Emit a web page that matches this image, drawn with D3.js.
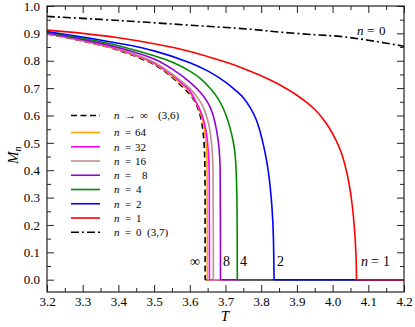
<!DOCTYPE html>
<html>
<head>
<meta charset="utf-8">
<script src="https://cdn.jsdelivr.net/npm/d3@7"></script>
<style>
  body { margin: 0; background: #fff; }
</style>
</head>
<body>
<div id="chart"></div>
<script>
// curves, [T, M] pairs; each ends flat at M = 0 after its Tc
var seriesInf = [[3.20,0.898],[3.30,0.872],[3.40,0.838],[3.50,0.786],[3.55,0.740],[3.58,0.704],[3.60,0.678],[3.61,0.660],[3.62,0.635],[3.628,0.605],[3.634,0.570],[3.638,0.53],[3.6405,0.485],[3.642,0.43],[3.6425,0.39],[3.643,0],[4.20,0]];
var series64 = [[3.20,0.899],[3.30,0.873],[3.40,0.840],[3.50,0.789],[3.55,0.744],[3.58,0.710],[3.60,0.684],[3.613,0.658],[3.625,0.626],[3.633,0.596],[3.639,0.562],[3.644,0.52],[3.6465,0.475],[3.648,0.42],[3.6485,0.38],[3.649,0],[4.20,0]];
var series32 = [[3.20,0.900],[3.30,0.874],[3.40,0.842],[3.50,0.792],[3.55,0.748],[3.58,0.715],[3.60,0.690],[3.615,0.655],[3.628,0.622],[3.637,0.590],[3.644,0.553],[3.649,0.51],[3.652,0.465],[3.654,0.41],[3.6545,0.37],[3.655,0],[4.20,0]];
var series16 = [[3.20,0.901],[3.30,0.876],[3.40,0.845],[3.50,0.795],[3.55,0.752],[3.58,0.722],[3.60,0.699],[3.62,0.668],[3.635,0.638],[3.645,0.605],[3.653,0.568],[3.658,0.530],[3.662,0.485],[3.664,0.44],[3.665,0.39],[3.666,0],[4.20,0]];
var series8 = [[3.20,0.902],[3.30,0.878],[3.40,0.848],[3.50,0.806],[3.55,0.770],[3.60,0.722],[3.63,0.684],[3.65,0.648],[3.663,0.610],[3.672,0.565],[3.678,0.522],[3.682,0.48],[3.684,0.44],[3.685,0.40],[3.686,0],[4.20,0]];
var series4 = [[3.20,0.904],[3.30,0.882],[3.40,0.855],[3.50,0.818],[3.55,0.795],[3.60,0.762],[3.63,0.735],[3.66,0.695],[3.68,0.660],[3.695,0.622],[3.705,0.588],[3.713,0.553],[3.72,0.515],[3.725,0.478],[3.728,0.44],[3.730,0.39],[3.7315,0.32],[3.7325,0.24],[3.733,0],[4.20,0]];
var series2 = [[3.20,0.907],[3.30,0.887],[3.40,0.864],[3.50,0.836],[3.60,0.793],[3.65,0.763],[3.70,0.722],[3.73,0.690],[3.75,0.665],[3.77,0.627],[3.785,0.588],[3.795,0.550],[3.803,0.510],[3.810,0.470],[3.817,0.420],[3.823,0.365],[3.828,0.300],[3.832,0.225],[3.834,0.16],[3.835,0.10],[3.836,0],[4.20,0]];
var series1 = [[3.20,0.912],[3.30,0.900],[3.40,0.884],[3.50,0.862],[3.60,0.834],[3.70,0.795],[3.75,0.772],[3.80,0.745],[3.85,0.713],[3.90,0.674],[3.93,0.645],[3.95,0.622],[3.97,0.593],[3.99,0.556],[4.01,0.508],[4.025,0.462],[4.04,0.39],[4.05,0.32],[4.056,0.26],[4.061,0.19],[4.064,0.13],[4.066,0.07],[4.067,0],[4.20,0]];
var series0 = [[3.20,0.962],[3.35,0.951],[3.46,0.942],[3.60,0.930],[3.77,0.915],[3.85,0.905],[3.95,0.895],[4.02,0.889],[4.10,0.875],[4.20,0.853]];

var legendNames = ["\u221e", "64", "32", "16", "8", "4", "2", "1", "0"];
var xTicks = [3.2, 3.3, 3.4, 3.5, 3.6, 3.7, 3.8, 3.9, 4.0, 4.1, 4.2];
var yTicks = [0.0, 0.1, 0.2, 0.3, 0.4, 0.5, 0.6, 0.7, 0.8, 0.9, 1.0];

var FONT = "'Liberation Serif', 'Times New Roman', 'Liberation Sans', Arial, sans-serif";

var margin = { top: 6, right: 11, bottom: 35, left: 47 },
    width = 415 - margin.left - margin.right,
    height = 327 - margin.top - margin.bottom;

var x = d3.scaleLinear().domain([3.2, 4.2]).range([0, width]);
var y = d3.scaleLinear().domain([-0.045, 1.0]).range([height, 0]);

var curves = [
  { data: seriesInf, color: "#000", dash: "6,3.5" },
  { data: series64, color: "#ffa500" },
  { data: series32, color: "#ff00ff" },
  { data: series16, color: "#bc8f8f" },
  { data: series8, color: "#9400d3" },
  { data: series4, color: "#008b00" },
  { data: series2, color: "#0000ff" },
  { data: series1, color: "#ff0000" },
  { data: series0, color: "#000", dash: "8,3,2,3", noZero: true }
];

var root = d3.select("#chart").append("svg")
    .attr("width", 415)
    .attr("height", 327)
    .style("font-family", FONT);
var svg = root.append("g")
    .attr("transform", "translate(" + margin.left + "," + margin.top + ")");

svg.append("clipPath").attr("id", "clip")
  .append("rect").attr("width", width).attr("height", height);

var minorX = d3.range(3.25, 4.2, 0.1);
var minorY = d3.range(0.05, 1.0, 0.1);

// major + minor ticks on all four sides, pointing inward
const addAxis = (axisFn, transform, values, size, pad, labels) => {
  var g = svg.append("g")
      .attr("transform", transform)
      .call(axisFn.tickValues(values).tickSize(size).tickPadding(pad)
        .tickFormat(labels ? d3.format(".1f") : ""));
  g.select(".domain").remove();
  g.selectAll("line").attr("stroke", "#222").attr("stroke-width", 1);
  g.selectAll("text").attr("font-size", "13px").attr("fill", "#000")
    .style("font-family", FONT);
  return g;
};

addAxis(d3.axisBottom(x), "translate(0," + height + ")", xTicks, -7, 5, true);
addAxis(d3.axisBottom(x), "translate(0," + height + ")", minorX, -4, 5, false);
addAxis(d3.axisTop(x), "translate(0,0)", xTicks, -7, 4, false);
addAxis(d3.axisTop(x), "translate(0,0)", minorX, -4, 4, false);
addAxis(d3.axisLeft(y), "translate(0,0)", yTicks, -7, 7, true);
addAxis(d3.axisLeft(y), "translate(0,0)", minorY, -4, 7, false);
addAxis(d3.axisRight(y), "translate(" + width + ",0)", yTicks, -7, 7, false);
addAxis(d3.axisRight(y), "translate(" + width + ",0)", minorY, -4, 7, false);

var smooth = d3.line()
    .x(d => x(d[0]))
    .y(d => y(d[1]))
    .curve(d3.curveCatmullRom.alpha(0.5));
var straight = d3.line()
    .x(d => x(d[0]))
    .y(d => y(d[1]));

var plot = svg.append("g").attr("clip-path", "url(#clip)");
curves.forEach(c => {
  var body = c.noZero ? c.data : c.data.slice(0, -1);
  plot.append("path")
    .datum(body)
    .attr("d", smooth)
    .attr("fill", "none")
    .attr("stroke", c.color)
    .attr("stroke-width", 1.6)
    .attr("stroke-dasharray", c.dash || null);
  if (!c.noZero) {
    plot.append("path")
      .datum(c.data.slice(-2))
      .attr("d", straight)
      .attr("fill", "none")
      .attr("stroke", c.color)
      .attr("stroke-width", 1.6)
      .attr("stroke-dasharray", c.dash || null);
  }
});

// frame
svg.append("rect")
  .attr("width", width).attr("height", height)
  .attr("fill", "none").attr("stroke", "#222").attr("stroke-width", 1.2);

// legend
var leg = svg.append("g").attr("transform", "translate(" + (71 - margin.left) + ",0)");
legendNames.forEach((name, i) => {
  var c = curves[i];
  var ly = (i == 0 ? 115.5 : 132.5 + (i - 1) * 14.25) - margin.top;
  leg.append("line")
    .attr("x1", 0).attr("x2", 29).attr("y1", ly).attr("y2", ly)
    .attr("stroke", c.color).attr("stroke-width", 1.6)
    .attr("stroke-dasharray", c.dash || null);
  var t = leg.append("text").attr("y", ly + 3.8).attr("font-size", "11px")
    .style("font-family", FONT);
  t.append("tspan").attr("x", 43).attr("font-style", "italic").text("n");
  if (i == 0) {
    t.append("tspan").attr("x", 54).text("\u2192");
    t.append("tspan").attr("x", 69).text(name);
    t.append("tspan").attr("x", 87).text("(3,6)");
  } else {
    t.append("tspan").attr("x", 54).text("=");
    if (name.length > 1) t.append("tspan").attr("x", 64).text(name);
    else t.append("tspan").attr("x", name == "8" ? 71 : 65).text(name);
    if (name == "0") t.append("tspan").attr("x", 76).text("(3,7)");
  }
});

// curve annotations
const note = (ty, parts, size) => {
  var t = svg.append("text").attr("y", ty - margin.top).attr("font-size", size)
    .style("font-family", FONT);
  parts.forEach(p => {
    t.append("tspan").attr("x", p[0] - margin.left)
      .attr("font-style", p[2] ? "italic" : null).text(p[1]);
  });
};
note(35, [[357, "n", true], [367, "="], [379, "0"]], "13px");
note(266, [[190, "\u221e"], [223, "8"], [240, "4"], [277, "2"]], "14px");
note(266, [[361, "n", true], [371, "="], [383, "1"]], "14px");

// axis titles
svg.append("text")
  .attr("x", 225 - margin.left).attr("y", 321 - margin.top)
  .attr("text-anchor", "middle").attr("font-size", "15px")
  .attr("font-style", "italic").style("font-family", FONT).text("T");

var yl = svg.append("text")
  .attr("transform", "translate(" + (18 - margin.left) + "," + (164 - margin.top) + ") rotate(-90)")
  .attr("font-size", "15px").attr("font-style", "italic").style("font-family", FONT);
yl.append("tspan").text("M");
yl.append("tspan").attr("font-size", "10px").attr("dy", 3).text("n");
</script>
</body>
</html>
